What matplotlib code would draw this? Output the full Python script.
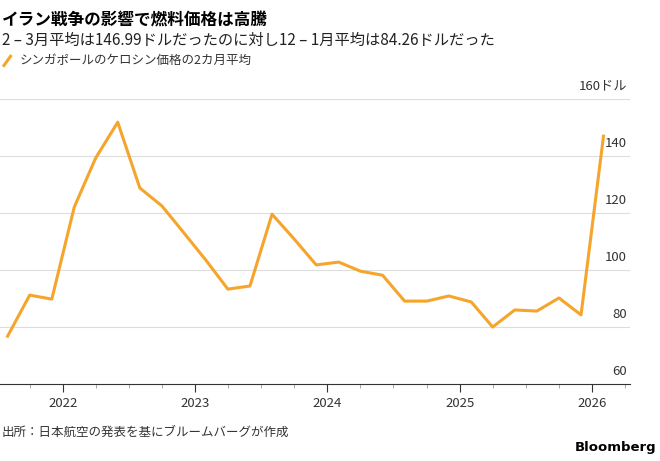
import matplotlib
matplotlib.use("Agg")
import matplotlib.pyplot as plt
import matplotlib.dates as mdates
import pandas as pd

plt.rcParams['font.family'] = ['Noto Sans CJK JP', 'DejaVu Sans']

dates = pd.date_range("2021-08-01", "2026-02-01", freq="2MS")
values = [76.8, 91.2, 89.8, 122.1, 139.3, 151.9, 128.8, 122.5, 113.0, 103.2, 93.3, 94.4,
          119.6, 110.9, 101.8, 102.8, 99.6, 98.2, 89.1, 89.1, 90.9, 88.8, 80.0, 86.0,
          85.6, 90.2, 84.26, 146.99]
yticks = [60, 80, 100, 120, 140, 160]
ylabels = ["60", "80", "100", "120", "140", "160ドル"]
color = "#F5A52B"

fig = plt.figure(figsize=(6.6, 4.61), dpi=100)
ax = fig.add_axes([0.0, 0.167, 0.955, 0.618])
ax.plot(dates, values, color=color, lw=2.2)
ax.set_ylim(60, 160)
ax.set_xlim(pd.Timestamp("2021-07-11"), pd.Timestamp("2026-04-16"))
for y in yticks[1:]:
    ax.axhline(y, color="#dddddd", lw=0.8, zorder=0)
ax.set_yticks([])
for y, l in zip(yticks, ylabels):
    ax.text(0.995, y + 2.2, l, transform=ax.get_yaxis_transform(), ha="right", va="bottom", fontsize=9.5, color="#333333")
ax.xaxis.set_major_locator(mdates.YearLocator())
ax.xaxis.set_major_formatter(mdates.DateFormatter("%Y"))
ax.xaxis.set_minor_locator(mdates.MonthLocator(bymonth=[4, 7, 10]))
ax.tick_params(axis="x", which="major", length=6, color="#333333", labelsize=9.5, labelcolor="#333333")
ax.tick_params(axis="x", which="minor", length=3, color="#999999")
for s in ["top", "right", "left"]:
    ax.spines[s].set_visible(False)
ax.spines["bottom"].set_color("#333333")

fig.text(0.003, 0.975, "イラン戦争の影響で燃料価格は高騰", fontsize=12, fontweight="bold", va="top")
fig.text(0.003, 0.93, "2 – 3月平均は146.99ドルだったのに対し12 – 1月平均は84.26ドルだった", fontsize=11, va="top", color="#222222")
fig.add_artist(plt.Line2D([0.006, 0.016], [0.858, 0.878], color=color, lw=2.2))
fig.text(0.03, 0.868, "シンガポールのケロシン価格の2カ月平均", fontsize=9, va="center", color="#333333")
fig.text(0.003, 0.063, "出所：日本航空の発表を基にブルームバーグが作成", fontsize=9, va="center", color="#333333")
fig.text(0.995, 0.03, "Bloomberg", fontsize=9.5, fontweight="bold", ha="right", va="center", family=["DejaVu Sans"])
fig.savefig("out.png", dpi=100)
